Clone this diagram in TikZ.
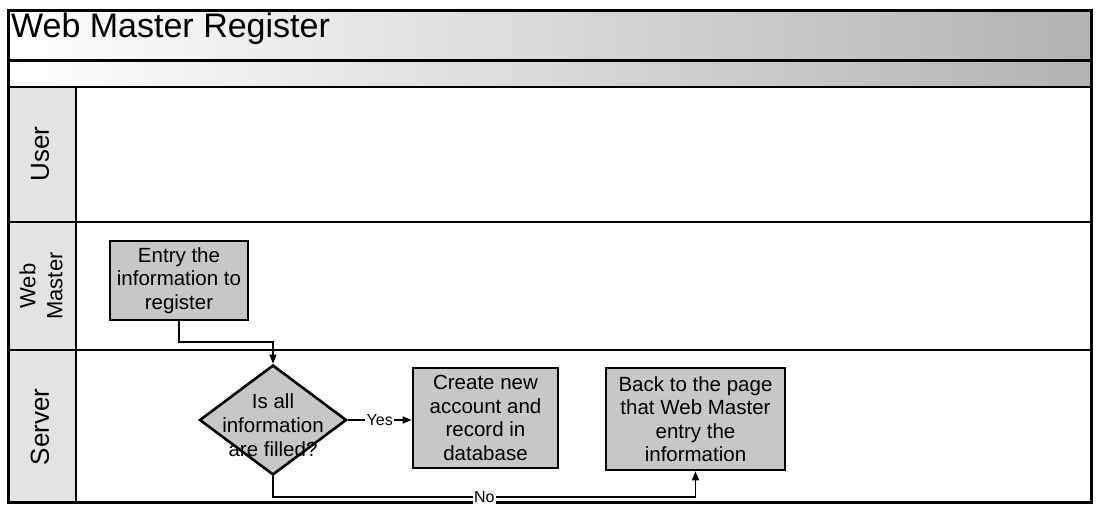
\documentclass[tikz,border=0pt]{standalone}
\usepackage{fontspec}
\setmainfont{Liberation Sans}
\usetikzlibrary{shapes.geometric,arrows.meta}
\begin{document}
\begin{tikzpicture}[x=1pt,y=-1pt,
  frame/.style={line width=3pt},
  lane/.style={line width=2.6pt},
  proc/.style={draw, line width=2.6pt, fill=black!22, align=center, inner sep=0pt,
    font=\fontsize{20.5}{23.5}\selectfont},
  dec/.style={draw, diamond, line width=2.6pt, fill=black!22, inner sep=0pt},
  txt/.style={align=center, inner sep=0pt, font=\fontsize{20.5}{24}\selectfont},
  lanelbl/.style={rotate=90, align=center, inner sep=0pt, font=\fontsize{26}{28}\selectfont},
  conn/.style={line width=1.3pt, -{Triangle[length=9pt,width=7pt]}},
  lbl/.style={fill=white, inner sep=1.5pt, font=\fontsize{16}{18}\selectfont}]
\useasboundingbox (0,0) rectangle (1096,510);
\fill[white] (0,0) rectangle (1096,510);
% title bands
\shade[left color=white, right color=black!30] (8,11) rectangle (1091,87);
% label column
\fill[black!11] (8,87) rectangle (76,503);
% lines
\draw[frame] (8,11) rectangle (1091,503);
\draw[frame] (8,61) -- (1091,61);
\draw[lane] (8,87) -- (1091,87);
\draw[lane] (8,222) -- (1091,222);
\draw[lane] (8,350) -- (1091,350);
\draw[lane] (76,87) -- (76,503);
% title
\node[anchor=base west, inner sep=0pt, font=\fontsize{34}{38}\selectfont] (title) at (11,38) {Web Master Register};
% lane labels
\node[lanelbl] (lu) at (40,154) {User};
\node[lanelbl, font=\fontsize{22}{27}\selectfont] (lw) at (41,286) {Web\\Master};
\node[lanelbl] (ls) at (40,427) {Server};
% nodes
\node[proc, minimum width=138pt, minimum height=79pt] (b1) at (179,280.5) {Entry the\\information to\\register};
\node[dec, minimum width=147pt, minimum height=110pt] (d) at (273,420) {};
\node[txt] (dt) at (273,425) {Is all\\information\\are filled?};
\node[proc, minimum width=145pt, minimum height=100pt] (b2) at (485.5,418) {Create new\\account and\\record in\\database};
\node[proc, minimum width=179pt, minimum height=102pt] (b3) at (695.5,419) {Back to the page\\that Web Master\\entry the\\information};
% connectors
\coordinate (j1) at (179,342);
\coordinate (j2) at (273,342);
\coordinate (n1) at (273,497);
\coordinate (n2) at (695.5,497);
\draw[conn] (b1.south) -- (j1) -- (j2) -- (d.north);
\draw[conn] (d.east) -- node[lbl] {Yes} (b2.west |- d.east);
\draw[conn] (d.south) -- (n1) -- node[lbl] {No} (n2) -- (b3.south);
\end{tikzpicture}
\end{document}
